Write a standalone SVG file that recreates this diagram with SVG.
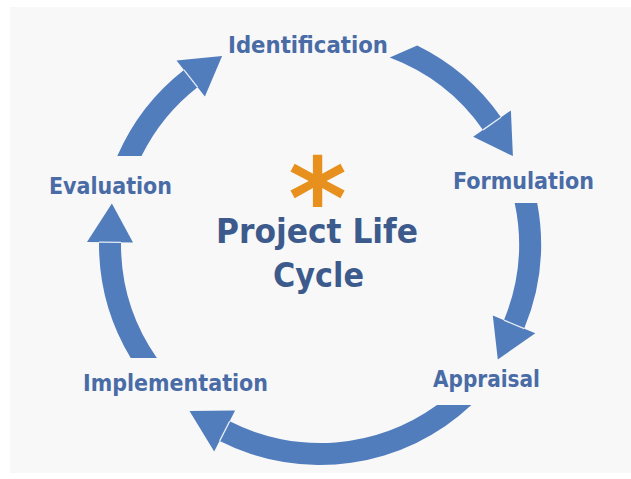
<svg xmlns="http://www.w3.org/2000/svg" width="631" height="479" viewBox="0 0 631 479">
  <style>
    .band { fill: #517dbd; }
    .head { fill: #517dbd; }
    .joint { stroke: #e4ebf5; stroke-width: 1.3; }
    .label { font-family: "DejaVu Sans Condensed", "DejaVu Sans", "Liberation Sans", sans-serif; font-weight: bold; font-size: 22.5px; fill: #4a6ca6; }
    .title { font-family: "DejaVu Sans Condensed", "DejaVu Sans", "Liberation Sans", sans-serif; font-weight: bold; font-size: 33px; fill: #3c5b8c; text-anchor: middle; }
    .star { font-family: "DejaVu Sans", sans-serif; font-weight: bold; fill: #e8901e; text-anchor: middle; }
  </style>
  <rect x="0" y="0" width="631" height="479" fill="#ffffff"/>
  <rect x="10" y="7" width="621" height="466" fill="#f8f8f9"/>

  <g id="connectors">
    <g id="identification-to-formulation">
      <path class="band" d="M417.2,45.5 A221,221 0 0 1 501.0,117.2 L483.0,129.9 A199,199 0 0 0 389.7,57.6 Z"/>
      <polygon class="head" points="473.2,136.7 510.9,110.4 512.9,156.1"/>
      <line class="joint" x1="483.0" y1="129.9" x2="501.0" y2="117.2"/>
    </g>
    <g id="formulation-to-appraisal">
      <path class="band" d="M537.2,203 A221,221 0 0 1 524.2,328.6 L503.9,320.2 A199,199 0 0 0 514.7,203 Z"/>
      <polygon class="head" points="492.8,315.6 535.3,333.2 497.8,359.5"/>
      <line class="joint" x1="503.9" y1="320.2" x2="524.2" y2="328.6"/>
    </g>
    <g id="appraisal-to-implementation">
      <path class="band" d="M471.4,405 A221,221 0 0 1 219.7,440.9 L229.7,421.3 A199,199 0 0 0 437.0,405 Z"/>
      <polygon class="head" points="235.1,410.6 214.2,451.6 189.5,411.1"/>
      <line class="joint" x1="229.7" y1="421.3" x2="219.7" y2="440.9"/>
    </g>
    <g id="implementation-to-evaluation">
      <path class="band" d="M130.7,358 A221,221 0 0 1 99,242.1 L121,242.3 A199,199 0 0 0 156.9,358 Z"/>
      <polygon class="head" points="87,242 133,242.4 111.9,203.5"/>
      <line class="joint" x1="99" y1="242.1" x2="121" y2="242.3"/>
    </g>
    <g id="evaluation-to-identification">
      <path class="band" d="M117.3,156 A221,221 0 0 1 183.9,69.9 L197.5,87.2 A199,199 0 0 0 141.5,156 Z"/>
      <polygon class="head" points="176.5,60.4 204.9,96.6 222.1,56.0"/>
      <line class="joint" x1="183.9" y1="69.9" x2="197.5" y2="87.2"/>
    </g>
  </g>

  <g id="identification">
    <text class="label" x="228" y="52.5" textLength="160" lengthAdjust="spacingAndGlyphs">Identification</text>
  </g>
  <g id="formulation">
    <text class="label" x="453" y="189" textLength="141" lengthAdjust="spacingAndGlyphs">Formulation</text>
  </g>
  <g id="appraisal">
    <text class="label" x="433" y="387" textLength="107" lengthAdjust="spacingAndGlyphs">Appraisal</text>
  </g>
  <g id="implementation">
    <text class="label" x="83" y="391" textLength="185" lengthAdjust="spacingAndGlyphs">Implementation</text>
  </g>
  <g id="evaluation">
    <text class="label" x="49" y="194" textLength="123" lengthAdjust="spacingAndGlyphs">Evaluation</text>
  </g>
  <g id="center">
    <text class="star" x="317.5" y="238" font-size="112">*</text>
    <text class="title" x="317" y="243" textLength="202" lengthAdjust="spacingAndGlyphs">Project Life</text>
    <text class="title" x="318.5" y="287" textLength="91" lengthAdjust="spacingAndGlyphs">Cycle</text>
  </g>
</svg>
